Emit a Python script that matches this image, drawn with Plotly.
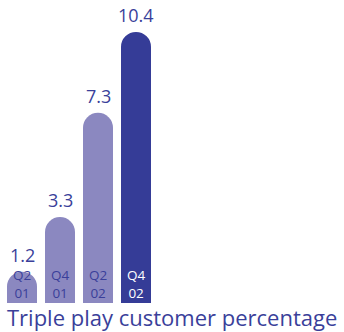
import plotly.graph_objects as go

categories = ["Q2 01", "Q4 01", "Q2 02", "Q4 02"]
quarter_top = ["Q2", "Q4", "Q2", "Q4"]
quarter_bottom = ["01", "01", "02", "02"]
values = [1.2, 3.3, 7.3, 10.4]
value_labels = ["1.2", "3.3", "7.3", "10.4"]
bar_colors = ["#8b88c0", "#8b88c0", "#8b88c0", "#353c97"]
inner_text_colors = ["#3a3f9a", "#3a3f9a", "#3a3f9a", "#ffffff"]
title_text = "Triple play customer percentage"

TEXT = "#3a3f9a"
FONT = "Open Sans"

fig = go.Figure()
fig.add_trace(go.Bar(
    x=categories, y=values,
    marker=dict(color=bar_colors, line=dict(width=0)),
    hoverinfo="skip",
))

annotations = []
for c, v, lab, qt, qb, tc in zip(categories, values, value_labels,
                                 quarter_top, quarter_bottom, inner_text_colors):
    annotations.append(dict(
        x=c, y=v, text=lab, showarrow=False, xanchor="center", yanchor="middle",
        yshift=17, font=dict(family=FONT, size=18, color=TEXT)))
    annotations.append(dict(
        x=c, y=0, text=qt + "<br>" + qb, showarrow=False, xanchor="center",
        yanchor="bottom", yshift=0, borderpad=0,
        font=dict(family=FONT, size=13.5, color=tc)))

fig.update_layout(
    width=344, height=332,
    margin=dict(l=3, r=189, t=0, b=29),
    paper_bgcolor="white", plot_bgcolor="white",
    bargap=8 / 38,
    barcornerradius=15,
    showlegend=False,
    xaxis=dict(visible=False, range=[-0.5, 3.5]),
    yaxis=dict(visible=False, range=[0, 303 / 26.06]),
    annotations=annotations,
    title=dict(text=title_text, x=7 / 344, xanchor="left", xref="container",
               y=1 - 318.5 / 332, yanchor="middle", yref="container",
               font=dict(family=FONT, size=22, color=TEXT)),
)

fig.write_html("out.html")
